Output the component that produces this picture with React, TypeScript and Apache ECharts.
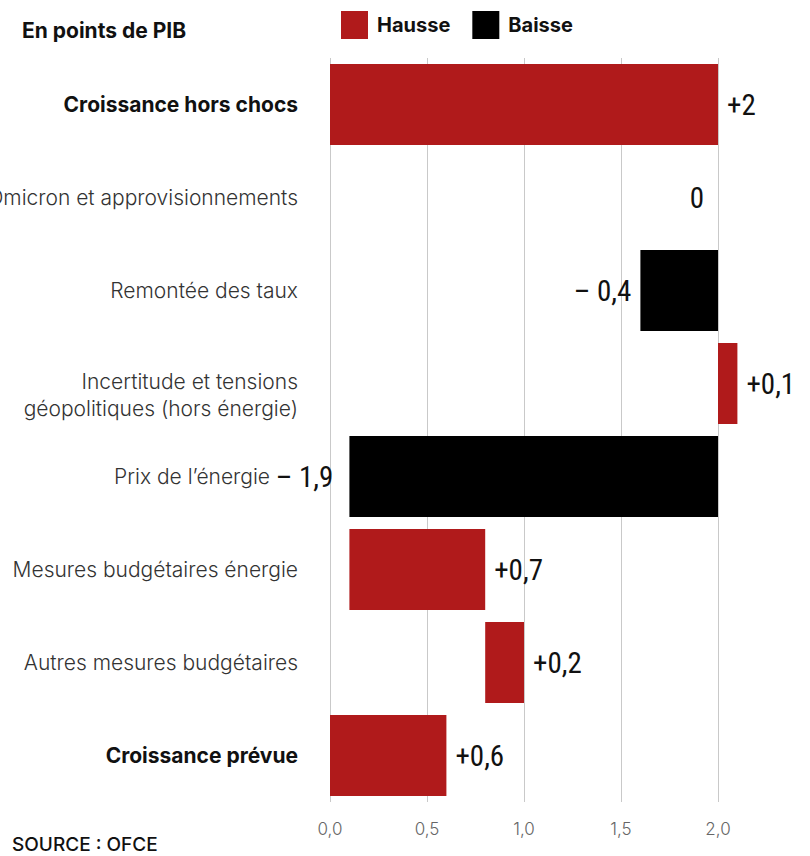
import React, { useEffect, useRef } from "react";
import * as echarts from "echarts";

const categories = [
  "Croissance hors chocs",
  "Omicron et approvisionnements",
  "Remontée des taux",
  "Incertitude et tensions\ngéopolitiques (hors énergie)",
  "Prix de l’énergie",
  "Mesures budgétaires énergie",
  "Autres mesures budgétaires",
  "Croissance prévue",
];
const boldCategories = ["Croissance hors chocs", "Croissance prévue"];
const barLow = [0, 2, 1.6, 2.0, 0.1, 0.1, 0.8, 0];
const changes = [2, 0, -0.4, 0.1, -1.9, 0.7, 0.2, 0.6];
const valueLabels = ["+2", "0", "– 0,4", "+0,1", "– 1,9", "+0,7", "+0,2", "+0,6"];
const xTicks = { min: 0, max: 2, interval: 0.5 };
const legendNames = ["Hausse", "Baisse"];

const RED = "#b01a1b";
const BLACK = "#000000";
const LABEL_FONT = "'Liberation Sans Narrow', 'Roboto Condensed', Roboto, sans-serif";
const CAT_FONT = "Inter, 'Open Sans', sans-serif";

export default function App() {
  const ref = useRef<HTMLDivElement>(null);
  useEffect(() => {
    if (!ref.current) return;
    const chart = echarts.init(ref.current, undefined, { renderer: "svg" });
    const valueLabel = (i: number, pos: string, dist: number) => ({
      show: true,
      position: pos,
      distance: dist,
      formatter: valueLabels[i],
      fontFamily: LABEL_FONT,
      fontSize: 29,
      color: "#111",
    });
    const hausse = changes.map((c, i) =>
      c > 0 ? { value: Math.abs(c), label: valueLabel(i, "right", 9) } : "-"
    );
    const baisse = changes.map((c, i) =>
      c <= 0
        ? { value: Math.abs(c), label: valueLabel(i, "left", c === 0 ? 14 : c < -1 ? 16 : 9) }
        : "-"
    );
    const catStyle = {
      fontFamily: CAT_FONT,
      fontSize: 21,
      fontWeight: 300,
      color: "#333",
      lineHeight: 27,
    };
    chart.setOption({
      animation: false,
      textStyle: { fontFamily: CAT_FONT },
      grid: {
        left: 330,
        right: 92,
        top: 58,
        bottom: 54,
        containLabel: false,
        outerBoundsMode: "none",
      },
      legend: {
        data: legendNames.map((n) => ({ name: n, icon: "rect" })),
        left: 336,
        top: 6,
        itemWidth: 27,
        itemHeight: 28,
        itemGap: 22,
        selectedMode: false,
        textStyle: {
          fontFamily: CAT_FONT,
          fontSize: 20,
          fontWeight: "bold",
          color: "#111",
          padding: [0, 0, 0, 4],
        },
      },
      xAxis: {
        type: "value",
        min: xTicks.min,
        max: xTicks.max,
        interval: xTicks.interval,
        axisLine: { show: false },
        axisTick: { show: false },
        splitLine: { show: true, lineStyle: { color: "#c9c9c9", width: 1 } },
        axisLabel: {
          margin: 18,
          color: "#666",
          fontSize: 17,
          fontFamily: CAT_FONT,
          fontWeight: 300,
          formatter: (v: number) => v.toFixed(1).replace(".", ","),
        },
      },
      yAxis: {
        type: "category",
        inverse: true,
        data: categories,
        axisLine: { show: false },
        axisTick: { show: false },
        axisLabel: {
          margin: 32,
          formatter: (v: string, i: number) => {
            if (boldCategories.includes(v)) return `{b|${v}}`;
            if (v.includes("\n"))
              return "{e| }\n" + v.split("\n").map((l) => `{n|${l}}`).join("\n");
            if (changes[i] < -1) return `{p|${v}}`;
            return `{n|${v}}`;
          },
          rich: {
            b: { ...catStyle, fontWeight: "bold", color: "#111" },
            n: catStyle,
            e: { ...catStyle, fontSize: 10, lineHeight: 22 },
            p: { ...catStyle, padding: [0, 28, 0, 0] },
          },
        },
      },
      series: [
        {
          type: "bar",
          name: "base",
          stack: "w",
          silent: true,
          barCategoryGap: "13%",
          itemStyle: { color: "transparent" },
          data: barLow,
          clip: false,
        },
        {
          type: "bar",
          name: legendNames[0],
          stack: "w",
          itemStyle: { color: RED },
          data: hausse,
          clip: false,
        },
        {
          type: "bar",
          name: legendNames[1],
          stack: "w",
          itemStyle: { color: BLACK },
          data: baisse,
          clip: false,
        },
      ],
      graphic: [
        {
          type: "text",
          left: 22,
          top: 20,
          style: {
            text: "En points de PIB",
            fontFamily: CAT_FONT,
            fontSize: 21,
            fontWeight: "bold",
            fill: "#111",
          },
        },
        {
          type: "text",
          left: 12,
          top: 835,
          style: {
            text: "SOURCE : OFCE",
            fontFamily: CAT_FONT,
            fontSize: 19,
            fontWeight: 500,
            fill: "#111",
          },
        },
      ],
    });
    return () => chart.dispose();
  }, []);
  return (
    <div
      ref={ref}
      style={{ position: "fixed", left: 0, top: 0, width: 810, height: 856, background: "#fff" }}
    />
  );
}
